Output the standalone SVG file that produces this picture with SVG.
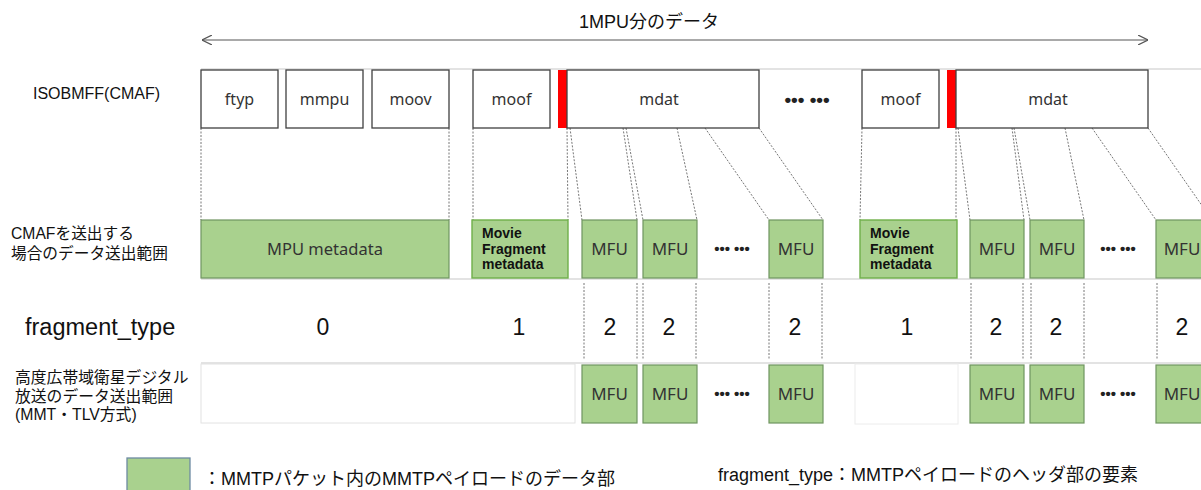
<svg xmlns="http://www.w3.org/2000/svg" width="1201" height="490" viewBox="0 0 1201 490">
<defs>
<style>
.box{fill:#fff;stroke:#404040;stroke-width:1.3}
.g{fill:#a9d18e;stroke:#6f9460;stroke-width:1.2}
.gm{fill:#a9d18e;stroke:#70b04a;stroke-width:1.4}
.red{fill:#ff0000}
.t{font-family:"Noto Sans","Open Sans",sans-serif;font-size:16px;fill:#333;text-anchor:middle}
.m{font-family:"Noto Sans","Open Sans",sans-serif;font-size:17px;fill:#333;text-anchor:middle}
.a{font-family:"Liberation Sans",Arial,"Noto Sans CJK JP",sans-serif;fill:#111}
.b{font-family:"Liberation Sans",Arial,sans-serif;font-weight:bold;font-size:14px;fill:#111}
.num{font-family:"Liberation Sans",Arial,sans-serif;font-size:23px;fill:#111;text-anchor:middle}
.dot{stroke:#777;stroke-width:1;stroke-dasharray:2 1.5;fill:none}
.hl{stroke:#c8c8c8;stroke-width:1.2}
.dots{font-family:"Liberation Sans",Arial,sans-serif;font-size:15px;font-weight:bold;fill:#222;text-anchor:middle}
</style>
<marker id="ah" viewBox="0 0 10 10" refX="10" refY="5" markerWidth="10" markerHeight="10" markerUnits="userSpaceOnUse" orient="auto-start-reverse">
<path d="M0,0 L10,5 L0,10" fill="none" stroke="#555" stroke-width="1.2"/>
</marker>
</defs>
<rect width="1201" height="490" fill="#fff"/>

<g id="title">
<text class="a" x="649" y="28" font-size="18" text-anchor="middle">1MPU分のデータ</text>
<line x1="202" y1="40" x2="1148" y2="40" stroke="#555" stroke-width="1" marker-start="url(#ah)" marker-end="url(#ah)"/>
</g>

<g id="row-labels">
<text class="a" x="33" y="99" font-size="16">ISOBMFF(CMAF)</text>
<text class="a" x="11" y="239" font-size="15.7">CMAFを送出する</text>
<text class="a" x="11" y="259" font-size="15.7">場合のデータ送出範囲</text>
<text class="a" x="25" y="335" font-size="23.5">fragment_type</text>
<text class="a" x="15" y="383" font-size="15.8">高度広帯域衛星デジタル</text>
<text class="a" x="15" y="402" font-size="15.8">放送のデータ送出範囲</text>
<text class="a" x="15" y="420" font-size="15.8">(MMT・TLV方式)</text>
</g>

<g id="grid">
<line class="hl" x1="201" y1="69" x2="1201" y2="69"/>
<line class="hl" x1="201" y1="279" x2="1201" y2="279"/>
<line class="hl" x1="201" y1="363" x2="1201" y2="363"/>
<rect x="201" y="364" width="374" height="59" fill="#fff" stroke="#e2e2e2" stroke-width="1"/>
<rect x="855" y="364" width="103" height="60" fill="#fff" stroke="#ececec" stroke-width="1"/>
</g>

<g id="connectors">
<line class="dot" x1="201" y1="128" x2="201" y2="220"/>
<line class="dot" x1="449" y1="128" x2="449" y2="220"/>
<line class="dot" x1="473" y1="128" x2="473" y2="220"/>
<line class="dot" x1="567" y1="128" x2="568" y2="220"/>
<line class="dot" x1="570" y1="128" x2="582" y2="220"/>
<line class="dot" x1="623" y1="128" x2="637" y2="220"/>
<line class="dot" x1="626" y1="128" x2="643" y2="220"/>
<line class="dot" x1="677" y1="128" x2="697" y2="220"/>
<line class="dot" x1="705" y1="128" x2="769" y2="220"/>
<line class="dot" x1="759" y1="128" x2="823" y2="220"/>
<line class="dot" x1="862" y1="128" x2="860" y2="220"/>
<line class="dot" x1="956" y1="128" x2="956" y2="220"/>
<line class="dot" x1="958" y1="128" x2="970" y2="220"/>
<line class="dot" x1="1012" y1="128" x2="1024" y2="220"/>
<line class="dot" x1="1014" y1="128" x2="1030" y2="220"/>
<line class="dot" x1="1065" y1="128" x2="1084" y2="220"/>
<line class="dot" x1="1092" y1="128" x2="1156" y2="220"/>
<line class="dot" x1="1148" y1="128" x2="1212" y2="220"/>
<line class="dot" x1="584" y1="283" x2="584" y2="359"/>
<line class="dot" x1="637" y1="283" x2="637" y2="359"/>
<line class="dot" x1="643" y1="283" x2="643" y2="359"/>
<line class="dot" x1="696" y1="283" x2="696" y2="359"/>
<line class="dot" x1="769" y1="283" x2="769" y2="359"/>
<line class="dot" x1="822" y1="283" x2="822" y2="359"/>
<line class="dot" x1="971" y1="283" x2="971" y2="359"/>
<line class="dot" x1="1023" y1="283" x2="1023" y2="359"/>
<line class="dot" x1="1031" y1="283" x2="1031" y2="359"/>
<line class="dot" x1="1084" y1="283" x2="1084" y2="359"/>
<line class="dot" x1="1157" y1="283" x2="1157" y2="359"/>
</g>

<g id="ftyp"><rect class="box" x="201" y="70" width="77" height="58"/><text class="t" x="239.5" y="105">ftyp</text></g>
<g id="mmpu"><rect class="box" x="286" y="70" width="77" height="58"/><text class="t" x="324.5" y="105">mmpu</text></g>
<g id="moov"><rect class="box" x="372" y="70" width="77" height="58"/><text class="t" x="410.5" y="105">moov</text></g>
<g id="moof1"><rect class="box" x="473" y="70" width="77" height="58"/><text class="t" x="511.5" y="105">moof</text></g>
<g id="redbar1"><rect class="red" x="558" y="70" width="9" height="58"/></g>
<g id="mdat1"><rect class="box" x="567" y="70" width="192" height="58"/><text class="t" x="659" y="105">mdat</text></g>
<g id="top-dots"><text class="dots" x="807" y="106" style="font-size:19px">••• •••</text></g>
<g id="moof2"><rect class="box" x="862" y="70" width="77" height="58"/><text class="t" x="900.5" y="105">moof</text></g>
<g id="redbar2"><rect class="red" x="947" y="70" width="9" height="58"/></g>
<g id="mdat2"><rect class="box" x="956" y="70" width="192" height="58"/><text class="t" x="1048" y="105">mdat</text></g>

<g id="mpu-metadata"><rect class="g" x="201" y="220" width="248" height="58"/><text class="t" x="325" y="255" style="font-size:16.5px">MPU metadata</text></g>
<g id="mf-meta1"><rect class="gm" x="472" y="220" width="96" height="58"/>
<text class="b" x="482" y="238">Movie</text><text class="b" x="482" y="254">Fragment</text><text class="b" x="482" y="269">metadata</text></g>
<g id="mfu1"><rect class="g" x="582" y="220" width="55" height="58"/><text class="m" x="609.5" y="255">MFU</text></g>
<g id="mfu2"><rect class="g" x="643" y="220" width="54" height="58"/><text class="m" x="670" y="255">MFU</text></g>
<g id="mid-dots1"><text class="dots" x="732" y="254">••• •••</text></g>
<g id="mfu3"><rect class="g" x="769" y="220" width="54" height="58"/><text class="m" x="796" y="255">MFU</text></g>
<g id="mf-meta2"><rect class="gm" x="860" y="220" width="97" height="58"/>
<text class="b" x="870" y="238">Movie</text><text class="b" x="870" y="254">Fragment</text><text class="b" x="870" y="269">metadata</text></g>
<g id="mfu4"><rect class="g" x="970" y="220" width="54" height="58"/><text class="m" x="997" y="255">MFU</text></g>
<g id="mfu5"><rect class="g" x="1030" y="220" width="54" height="58"/><text class="m" x="1057" y="255">MFU</text></g>
<g id="mid-dots2"><text class="dots" x="1118" y="254">••• •••</text></g>
<g id="mfu6"><rect class="g" x="1156" y="220" width="56" height="58"/><text class="m" x="1182" y="255">MFU</text></g>

<g id="fragment-types">
<text class="num" x="323" y="335">0</text>
<text class="num" x="519" y="335">1</text>
<text class="num" x="610" y="335">2</text>
<text class="num" x="669" y="335">2</text>
<text class="num" x="795" y="335">2</text>
<text class="num" x="907" y="335">1</text>
<text class="num" x="996" y="335">2</text>
<text class="num" x="1056" y="335">2</text>
<text class="num" x="1182" y="335">2</text>
</g>

<g id="b-mfu1"><rect class="g" x="582" y="365" width="55" height="58"/><text class="m" x="609.5" y="400">MFU</text></g>
<g id="b-mfu2"><rect class="g" x="643" y="365" width="54" height="58"/><text class="m" x="670" y="400">MFU</text></g>
<g id="b-dots1"><text class="dots" x="732" y="399">••• •••</text></g>
<g id="b-mfu3"><rect class="g" x="769" y="365" width="54" height="58"/><text class="m" x="796" y="400">MFU</text></g>
<g id="b-mfu4"><rect class="g" x="970" y="365" width="54" height="58"/><text class="m" x="997" y="400">MFU</text></g>
<g id="b-mfu5"><rect class="g" x="1030" y="365" width="54" height="58"/><text class="m" x="1057" y="400">MFU</text></g>
<g id="b-dots2"><text class="dots" x="1118" y="399">••• •••</text></g>
<g id="b-mfu6"><rect class="g" x="1156" y="365" width="56" height="58"/><text class="m" x="1182" y="400">MFU</text></g>

<g id="legend">
<rect x="127" y="458" width="63" height="40" fill="#a9d18e" stroke="#6d8aa3" stroke-width="1.3"/>
<text class="a" x="203" y="485" font-size="18">：MMTPパケット内のMMTPペイロードのデータ部</text>
<text class="a" x="718" y="481" font-size="18">fragment_type：MMTPペイロードのヘッダ部の要素</text>
</g>
</svg>
